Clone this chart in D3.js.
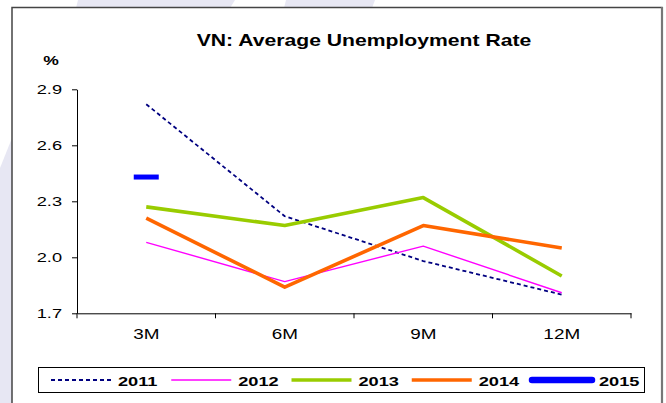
<!DOCTYPE html>
<html>
<head>
<meta charset="utf-8">
<script src="https://cdn.jsdelivr.net/npm/d3@7"></script>
<style>
  html, body { margin: 0; padding: 0; background: #fff; }
  svg { display: block; }
</style>
</head>
<body>
<script>
// Quarterly-cumulative average unemployment rate, Vietnam (%)
const categories = ["3M", "6M", "9M", "12M"];
const years = ["2011", "2012", "2013", "2014", "2015"];
const rate2011 = [2.82, 2.22, 1.98, 1.80];
const rate2012 = [2.08, 1.87, 2.06, 1.81];
const rate2013 = [2.27, 2.17, 2.32, 1.90];
const rate2014 = [2.21, 1.84, 2.17, 2.05];
const rate2015 = [2.43];
const yTicks = [1.7, 2.0, 2.3, 2.6, 2.9];

const W = 666, H = 403;
const SX = 1.35; // horizontal text stretch
const font = "Arial, 'Liberation Sans', Helvetica, sans-serif";

const series = [
  { name: years[0], values: rate2011, color: "#000080", width: 1.8, dash: "4,3" },
  { name: years[1], values: rate2012, color: "#ff00ff", width: 1.4, dash: null },
  { name: years[2], values: rate2013, color: "#99cc00", width: 3.6, dash: null },
  { name: years[3], values: rate2014, color: "#ff6600", width: 3.6, dash: null },
  { name: years[4], values: rate2015, color: "#0000ff", width: 5, dash: null, marker: true }
];

const svg = d3.select("body").append("svg").attr("width", W).attr("height", H);

// page background with soft watermark bands outside the frame
svg.append("rect").attr("width", W).attr("height", H).attr("fill", "#fff");
const wm = "#e7e7f3";
svg.append("polygon").attr("points", "78,0 235,0 230,8 76,8").attr("fill", wm);
svg.append("polygon").attr("points", "286,0 375,0 372,8 284,8").attr("fill", wm);
svg.append("polygon").attr("points", "0,168 12,138 12,403 0,403").attr("fill", wm);

// chart frame
svg.append("rect").attr("x", 12).attr("y", 7.5).attr("width", 650).attr("height", 420)
  .attr("fill", "#fff").attr("stroke", "#444").attr("stroke-width", 1.5);
svg.append("line").attr("x1", 662).attr("x2", 662).attr("y1", 7).attr("y2", H)
  .attr("stroke", "#777").attr("stroke-width", 2.2);

const x0 = 77, x1 = 631, yTop = 89.3, yBot = 313.3;

const xBand = d3.scaleBand().domain(categories).range([x0, x1]).padding(0);
const xPos = c => xBand(c) + xBand.bandwidth() / 2;
const y = d3.scaleLinear().domain([1.7, 2.9]).range([yBot, yTop]);

// title
svg.append("text")
  .attr("transform", `translate(364,46) scale(${SX * 0.98},1)`)
  .attr("text-anchor", "middle")
  .attr("font-family", font).attr("font-weight", "bold").attr("font-size", 16)
  .text("VN: Average Unemployment Rate");

// unit label
svg.append("text")
  .attr("transform", `translate(51,65) scale(${SX},1)`)
  .attr("text-anchor", "middle")
  .attr("font-family", font).attr("font-weight", "bold").attr("font-size", 13)
  .text("%");

// y axis
const yAxis = svg.append("g").attr("transform", `translate(${x0},0)`)
  .call(d3.axisLeft(y).tickValues(yTicks).tickFormat(d3.format(".1f")).tickSize(5).tickSizeOuter(0));
yAxis.select(".domain").attr("stroke", "#000");
yAxis.selectAll(".tick line").attr("stroke", "#000");
yAxis.selectAll(".tick text")
  .attr("font-family", font).attr("font-size", 13.5).attr("fill", "#000")
  .attr("x", -15 / SX).attr("transform", `scale(${SX},1)`);

// x axis: labels at band centres, tick marks at category boundaries
const xAxis = svg.append("g").attr("transform", `translate(0,${yBot})`)
  .call(d3.axisBottom(xBand).tickSize(0).tickSizeOuter(0));
xAxis.select(".domain").attr("stroke", "#000");
xAxis.selectAll(".tick").attr("transform", d => `translate(${xPos(d)},0)`);
xAxis.selectAll(".tick text")
  .attr("font-family", font).attr("font-size", 14).attr("fill", "#000")
  .attr("x", 0).attr("y", 16).attr("transform", `scale(${SX},1)`);
const bounds = categories.map(c => xBand(c)).concat([x1]);
xAxis.selectAll(".bound").data(bounds).join("line")
  .attr("x1", d => d).attr("x2", d => d).attr("y1", 0).attr("y2", 5)
  .attr("stroke", "#000");

// series lines
const line = d3.line().x((d, i) => xPos(categories[i])).y(d => y(d));
series.filter(s => !s.marker).forEach(s => {
  svg.append("path").datum(s.values)
    .attr("d", line)
    .attr("fill", "none").attr("stroke", s.color).attr("stroke-width", s.width)
    .attr("stroke-dasharray", s.dash).attr("stroke-linejoin", "round");
});

// single-point series shown as a dash marker
series.filter(s => s.marker).forEach(s => {
  svg.selectAll(null).data(s.values).join("rect")
    .attr("x", (d, i) => xPos(categories[i]) - 12.5)
    .attr("y", d => y(d) - 2.5)
    .attr("width", 25).attr("height", 5)
    .attr("fill", s.color);
});

// legend
const lg = svg.append("g");
lg.append("rect").attr("x", 38.5).attr("y", 367.5).attr("width", 606).attr("height", 25)
  .attr("fill", "#fff").attr("stroke", "#000").attr("stroke-width", 1);
const legendX = d3.scalePoint().domain(years).range([51, 532]);
series.forEach(s => {
  const lx = legendX(s.name);
  lg.append("line")
    .attr("x1", lx).attr("x2", lx + 60).attr("y1", 380).attr("y2", 380)
    .attr("stroke", s.color)
    .attr("stroke-width", s.marker ? 6.5 : s.width)
    .attr("stroke-linecap", s.marker ? "round" : "butt")
    .attr("stroke-dasharray", s.dash);
  lg.append("text")
    .attr("transform", `translate(${lx + 67},385.5) scale(${SX},1)`)
    .attr("font-family", font).attr("font-weight", "bold").attr("font-size", 13.5)
    .text(s.name);
});
</script>
</body>
</html>
